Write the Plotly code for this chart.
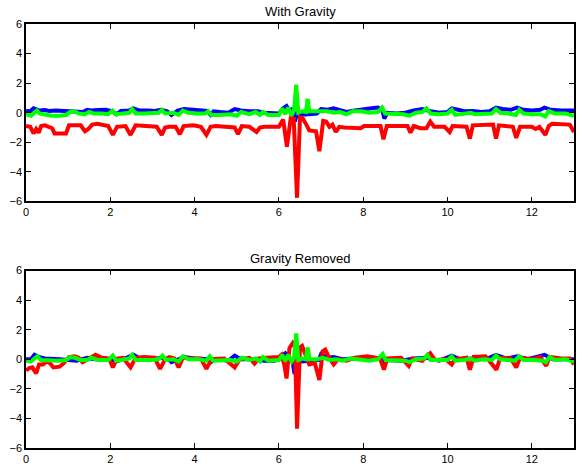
import plotly.graph_objects as go
from plotly.subplots import make_subplots

# Accelerometer traces (time in s, acceleration), sampled at the turning points of each curve.
with_gravity_blue = [
    (0, 0.12), (0.1, 0.1), (0.18, 0.3), (0.25, 0.25), (0.32, 0.15), (0.45, 0.18), (0.55, 0.12),
    (0.7, 0.15), (0.9, 0.12), (1.0, 0.05), (1.2, 0.02), (1.35, 0.05), (1.45, 0.2), (1.55, 0.15),
    (1.7, 0.18), (1.9, 0.2), (2.05, 0.1), (2.15, -0.1), (2.25, 0.12), (2.45, 0.15), (2.55, 0.3),
    (2.7, 0.15), (2.9, 0.15), (3.05, 0.12), (3.2, 0.2), (3.35, 0.1), (3.45, -0.15), (3.6, 0.15),
    (3.75, 0.25), (3.9, 0.2), (4.1, 0.15), (4.3, 0.12), (4.38, -0.15), (4.45, 0.1), (4.6, 0.05),
    (4.8, 0.0), (4.95, 0.25), (5.1, 0.15), (5.3, 0.1), (5.5, 0.1), (5.65, 0.0), (5.8, -0.05),
    (6.0, -0.05), (6.1, 0.3), (6.18, 0.45), (6.26, 0.1), (6.32, 0.3), (6.38, -0.6), (6.44, 0.1),
    (6.5, -0.15), (6.7, -0.1), (6.9, -0.05), (7.0, 0.25), (7.15, 0.2), (7.3, 0.3), (7.45, 0.15),
    (7.6, 0.05), (7.8, 0.15), (8.0, 0.25), (8.2, 0.3), (8.35, 0.35), (8.45, 0.2), (8.5, -0.4),
    (8.57, 0.0), (8.8, -0.05), (9.0, 0.0), (9.2, 0.15), (9.4, 0.25), (9.6, 0.1), (9.8, 0.0),
    (10.0, 0.05), (10.1, 0.3), (10.25, 0.2), (10.4, 0.1), (10.6, 0.12), (10.8, 0.05), (11.0, 0.1),
    (11.15, 0.35), (11.3, 0.25), (11.5, 0.2), (11.65, 0.35), (11.8, 0.2), (12.0, 0.15), (12.2, 0.2),
    (12.3, 0.35), (12.45, 0.2), (12.7, 0.15), (13.0, 0.15),
]

with_gravity_red = [
    (0, -0.9), (0.1, -0.95), (0.18, -1.4), (0.24, -1.1), (0.3, -1.35), (0.36, -0.9), (0.45, -0.85),
    (0.55, -1.0), (0.62, -1.05), (0.68, -1.4), (0.95, -1.4), (1.02, -0.85), (1.3, -0.85),
    (1.36, -1.1), (1.4, -1.25), (1.48, -1.1), (1.57, -0.8), (1.7, -0.75), (1.95, -0.9),
    (2.06, -1.5), (2.16, -0.95), (2.36, -0.9), (2.48, -1.5), (2.6, -0.85), (3.0, -0.9),
    (3.1, -0.95), (3.22, -1.5), (3.3, -1.0), (3.4, -0.95), (3.55, -0.95), (3.65, -1.45),
    (3.74, -0.9), (3.97, -0.85), (4.15, -0.95), (4.28, -1.5), (4.38, -0.95), (4.5, -0.9),
    (4.8, -1.0), (4.95, -1.0), (5.03, -1.45), (5.12, -0.9), (5.3, -0.95), (5.4, -1.2),
    (5.47, -1.3), (5.55, -1.0), (5.65, -0.95), (6.0, -0.95), (6.06, -0.6), (6.1, -0.45),
    (6.19, -2.3), (6.28, -0.35), (6.35, -0.4), (6.43, -5.75), (6.5, -0.3), (6.57, -0.4),
    (6.65, -0.8), (6.72, -1.2), (6.88, -1.25), (6.96, -2.6), (7.05, -0.55), (7.12, -0.6),
    (7.2, -0.95), (7.27, -0.8), (7.35, -1.3), (7.43, -0.95), (7.55, -1.0), (7.94, -1.05),
    (8.02, -0.9), (8.41, -0.9), (8.48, -1.8), (8.56, -0.9), (9.05, -0.9), (9.12, -1.35),
    (9.2, -0.9), (9.36, -1.05), (9.5, -1.05), (9.59, -0.6), (9.68, -0.95), (9.93, -0.95),
    (10.05, -1.3), (10.12, -0.9), (10.45, -0.95), (10.53, -1.75), (10.6, -0.85), (11.08, -0.8),
    (11.15, -1.75), (11.22, -0.85), (11.55, -0.95), (11.63, -1.7), (11.72, -0.95), (12.0, -0.95),
    (12.09, -1.1), (12.18, -0.95), (12.32, -1.5), (12.4, -0.9), (12.48, -0.75), (12.9, -0.8),
    (13.0, -1.3),
]

with_gravity_green = [
    (0, -0.1), (0.12, -0.2), (0.2, 0.0), (0.26, 0.15), (0.32, -0.05), (0.45, -0.15), (0.6, -0.2),
    (0.8, -0.2), (0.95, -0.15), (1.05, 0.05), (1.15, 0.1), (1.25, -0.05), (1.4, -0.1), (1.5, 0.05),
    (1.6, -0.05), (1.8, -0.05), (1.95, -0.1), (2.05, 0.15), (2.12, -0.1), (2.3, -0.05), (2.45, 0.0),
    (2.52, 0.25), (2.6, -0.05), (2.8, -0.05), (3.0, -0.05), (3.15, 0.0), (3.22, 0.2), (3.3, -0.05),
    (3.5, 0.0), (3.62, -0.15), (3.72, 0.15), (3.85, 0.0), (4.05, -0.05), (4.25, -0.05), (4.32, 0.1),
    (4.4, -0.15), (4.6, -0.15), (4.85, -0.1), (5.0, -0.2), (5.1, 0.05), (5.3, -0.1), (5.45, 0.05),
    (5.55, -0.15), (5.62, 0.05), (5.75, -0.15), (6.0, -0.15), (6.08, 0.3), (6.15, -0.1),
    (6.22, 0.35), (6.3, -0.2), (6.36, 0.2), (6.41, 1.9), (6.46, 0.0), (6.55, 0.1), (6.64, 0.05),
    (6.68, 0.95), (6.72, 0.1), (6.85, 0.1), (7.0, 0.15), (7.15, 0.1), (7.3, 0.0), (7.45, 0.05),
    (7.6, -0.1), (7.75, 0.1), (7.95, 0.1), (8.15, 0.0), (8.35, 0.05), (8.45, 0.35), (8.52, -0.05),
    (8.7, -0.05), (8.95, -0.1), (9.1, -0.2), (9.25, 0.0), (9.4, 0.05), (9.5, 0.3), (9.6, -0.05),
    (9.8, -0.1), (10.0, -0.05), (10.1, 0.2), (10.18, -0.15), (10.35, -0.05), (10.55, 0.0),
    (10.65, -0.1), (10.85, -0.05), (11.05, -0.05), (11.15, 0.25), (11.25, 0.0), (11.45, -0.05),
    (11.62, -0.15), (11.7, 0.2), (11.8, -0.05), (12.0, -0.1), (12.2, -0.1), (12.32, -0.25),
    (12.4, 0.1), (12.55, -0.05), (12.8, -0.05), (13.0, -0.2),
]

removed_blue = [
    (0, 0.0), (0.12, 0.0), (0.2, 0.3), (0.3, 0.15), (0.45, 0.05), (0.6, 0.05), (0.8, 0.0),
    (1.0, -0.05), (1.2, -0.1), (1.45, 0.1), (1.6, 0.0), (1.9, 0.05), (2.05, -0.05), (2.15, -0.15),
    (2.3, 0.0), (2.55, 0.3), (2.7, 0.05), (3.0, 0.0), (3.2, 0.1), (3.4, -0.05), (3.45, -0.2),
    (3.6, 0.0), (3.75, 0.15), (4.0, 0.05), (4.3, 0.0), (4.38, -0.2), (4.5, 0.0), (4.8, -0.1),
    (4.95, 0.25), (5.1, 0.0), (5.4, 0.0), (5.65, -0.1), (5.9, -0.1), (6.05, 0.2), (6.15, 0.4),
    (6.25, 0.0), (6.32, -0.1), (6.37, -1.0), (6.43, 0.0), (6.55, -0.15), (6.8, -0.1),
    (6.95, -0.05), (7.0, 0.35), (7.15, 0.1), (7.3, 0.15), (7.5, 0.0), (7.8, 0.05), (8.2, 0.1),
    (8.45, 0.05), (8.5, -0.35), (8.57, -0.05), (8.9, -0.1), (9.2, 0.05), (9.5, 0.1), (9.8, -0.1),
    (10.1, 0.25), (10.3, 0.0), (10.6, 0.05), (10.9, 0.0), (11.15, 0.3), (11.4, 0.05),
    (11.65, 0.2), (11.9, 0.0), (12.3, 0.3), (12.5, 0.0), (13.0, 0.0),
]

removed_red = [
    (0, -0.75), (0.08, -0.6), (0.15, -0.55), (0.24, -0.95), (0.31, -0.35), (0.4, -0.35),
    (0.5, -0.15), (0.58, -0.3), (0.65, -0.55), (0.8, -0.5), (0.9, -0.25), (1.02, 0.15),
    (1.15, 0.2), (1.25, 0.1), (1.34, -0.2), (1.42, -0.05), (1.53, 0.1), (1.65, 0.3), (1.8, 0.1),
    (1.97, 0.05), (2.06, -0.55), (2.16, 0.05), (2.3, 0.1), (2.48, -0.55), (2.6, 0.1), (2.8, 0.15),
    (3.05, 0.1), (3.18, -0.65), (3.3, 0.0), (3.4, 0.15), (3.52, 0.05), (3.62, -0.55), (3.72, 0.1),
    (3.9, 0.05), (4.15, 0.05), (4.28, -0.65), (4.4, 0.0), (4.7, 0.05), (4.95, -0.55), (5.07, 0.0),
    (5.3, 0.1), (5.42, -0.3), (5.52, 0.05), (5.7, 0.1), (6.0, 0.15), (6.06, 0.3), (6.13, -0.4),
    (6.18, -1.3), (6.25, 0.75), (6.33, 1.1), (6.38, 0.9), (6.43, -4.7), (6.5, 0.8), (6.55, 0.9),
    (6.6, 0.55), (6.72, -0.35), (6.85, -0.25), (6.96, -1.4), (7.04, 0.55), (7.1, 0.65),
    (7.2, 0.05), (7.3, -0.35), (7.4, 0.0), (7.6, -0.1), (7.8, 0.1), (8.1, 0.2), (8.4, 0.05),
    (8.49, -0.7), (8.57, 0.05), (8.9, 0.1), (9.08, -0.45), (9.16, 0.05), (9.4, -0.1), (9.59, 0.4),
    (9.7, -0.05), (9.95, 0.0), (10.1, -0.35), (10.18, 0.0), (10.45, 0.1), (10.53, -0.7),
    (10.62, 0.15), (10.9, 0.2), (11.16, -0.7), (11.25, 0.1), (11.5, 0.05), (11.63, -0.55),
    (11.72, 0.1), (12.0, 0.0), (12.2, 0.15), (12.34, -0.45), (12.42, 0.15), (12.7, 0.05),
    (12.9, 0.05), (13.0, -0.35),
]

removed_green = [
    (0, -0.1), (0.12, -0.15), (0.2, 0.05), (0.27, 0.2), (0.35, -0.05), (0.55, -0.1), (0.8, -0.1),
    (0.95, -0.05), (1.05, 0.15), (1.15, 0.1), (1.3, -0.05), (1.45, -0.05), (1.55, 0.1),
    (1.7, -0.05), (1.95, -0.05), (2.06, 0.25), (2.14, -0.1), (2.35, 0.0), (2.45, 0.05), (2.52, 0.3),
    (2.6, -0.05), (2.85, -0.05), (3.05, -0.05), (3.18, 0.05), (3.24, 0.25), (3.32, -0.05),
    (3.5, 0.0), (3.62, -0.15), (3.72, 0.2), (3.85, 0.0), (4.1, 0.0), (4.28, -0.1), (4.36, 0.2),
    (4.44, -0.1), (4.6, -0.1), (4.85, -0.05), (5.0, -0.15), (5.12, 0.1), (5.3, -0.05), (5.45, 0.05),
    (5.55, -0.15), (5.62, 0.15), (5.75, -0.1), (6.0, -0.05), (6.08, 0.3), (6.15, -0.1), (6.22, 0.3),
    (6.3, -0.15), (6.36, 0.1), (6.41, 1.75), (6.46, -0.05), (6.55, 0.05), (6.64, 0.0), (6.68, 0.8),
    (6.73, 0.0), (6.9, 0.0), (7.05, 0.1), (7.2, -0.05), (7.35, 0.0), (7.5, -0.1), (7.7, 0.05),
    (7.95, 0.0), (8.15, -0.1), (8.35, 0.0), (8.46, 0.35), (8.53, -0.05), (8.75, -0.05), (9.0, -0.1),
    (9.1, -0.2), (9.25, 0.0), (9.45, 0.05), (9.52, 0.3), (9.6, -0.05), (9.85, -0.05), (10.0, -0.05),
    (10.1, 0.2), (10.18, -0.1), (10.4, -0.05), (10.55, 0.05), (10.65, -0.1), (10.85, 0.0),
    (11.05, -0.05), (11.15, 0.25), (11.25, 0.0), (11.45, -0.05), (11.6, -0.1), (11.7, 0.2),
    (11.8, -0.05), (12.05, -0.05), (12.25, -0.1), (12.33, -0.2), (12.42, 0.15), (12.55, -0.05),
    (12.8, 0.0), (13.0, -0.15),
]

panel_titles = ["With Gravity", "Gravity Removed"]
x_ticks = [0, 2, 4, 6, 8, 10, 12]
y_ticks = [-6, -4, -2, 0, 2, 4, 6]

fig = make_subplots(rows=2, cols=1, vertical_spacing=0.1628)

panels = [
    (1, [(with_gravity_blue, "#0000ff"), (with_gravity_red, "#ff0000"), (with_gravity_green, "#00ff00")]),
    (2, [(removed_blue, "#0000ff"), (removed_red, "#ff0000"), (removed_green, "#00ff00")]),
]
for row, series in panels:
    for pts, color in series:
        fig.add_trace(
            go.Scatter(
                x=[p[0] for p in pts],
                y=[p[1] for p in pts],
                mode="lines",
                line=dict(color=color, width=4),
                showlegend=False,
                hoverinfo="skip",
            ),
            row=row, col=1,
        )

axis_style = dict(
    showline=True, linecolor="black", linewidth=1.5, mirror="ticks",
    ticks="inside", ticklen=5, tickwidth=1, tickcolor="black",
    showgrid=False, zeroline=False,
    tickfont=dict(family="Liberation Sans, Arial, sans-serif", size=11, color="black"),
)

fig.update_xaxes(range=[0, 13], tickvals=x_ticks, **axis_style)
fig.update_yaxes(range=[-6, 6], tickvals=y_ticks, **axis_style)

fig.update_layout(
    width=586, height=475,
    margin=dict(l=25, r=10, t=24, b=21),
    paper_bgcolor="white", plot_bgcolor="white",
    annotations=[
        dict(text=panel_titles[0], x=0.5, y=1.0, xref="paper", yref="paper",
             xanchor="center", yanchor="bottom", yshift=3, showarrow=False,
             font=dict(family="Liberation Sans, Arial, sans-serif", size=13, color="black")),
        dict(text=panel_titles[1], x=0.5, y=0.4186, xref="paper", yref="paper",
             xanchor="center", yanchor="bottom", yshift=3, showarrow=False,
             font=dict(family="Liberation Sans, Arial, sans-serif", size=13, color="black")),
    ],
)

fig.write_html("out.html")
